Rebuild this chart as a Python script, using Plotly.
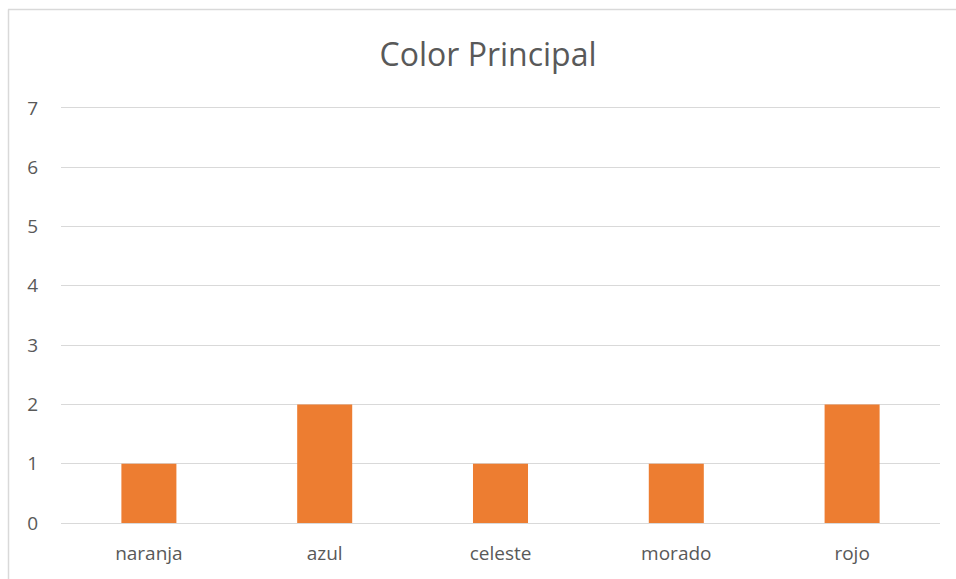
import plotly.graph_objects as go

categories = ["naranja", "azul", "celeste", "morado", "rojo"]
values = [1, 2, 1, 1, 2]
title_text = "Color Principal"

fig = go.Figure(go.Bar(
    x=categories, y=values,
    marker=dict(color="#ED7D31", line=dict(width=0)),
    width=0.313,
))

font_family = "Open Sans, Liberation Sans, sans-serif"

top_pad = 0.05
plot_h = 579 - 105 - 56

fig.update_layout(
    width=956, height=579,
    margin=dict(l=61, r=16, t=105, b=56),
    paper_bgcolor="white", plot_bgcolor="white",
    showlegend=False,
    title=dict(text=title_text, x=488 / 956, xanchor="center", y=1 - 55 / 579, yanchor="middle",
               font=dict(family=font_family, size=32, color="#595959")),
    font=dict(family=font_family, size=19, color="#595959"),
    xaxis=dict(showgrid=False, showline=False, ticks="", tickfont=dict(size=19, color="#595959"),
               ticklabelstandoff=17),
    yaxis=dict(range=[0, 7 + top_pad], tickvals=[0, 1, 2, 3, 4, 5, 6, 7], showgrid=True,
               gridcolor="#D9D9D9", gridwidth=1.3,
               zeroline=True, zerolinecolor="#D9D9D9", zerolinewidth=1.3,
               showline=False, ticks="", tickfont=dict(size=19, color="#595959"),
               ticklabelstandoff=22),
    shapes=[
        dict(type="line", xref="paper", yref="paper", x0=-53 / 879, x1=1.1,
             y0=(523 - 9.5) / plot_h, y1=(523 - 9.5) / plot_h,
             line=dict(color="#D9D9D9", width=1.5)),
        dict(type="line", xref="paper", yref="paper", x0=-52.5 / 879, x1=-52.5 / 879, y0=-0.2,
             y1=(523 - 9.5) / plot_h,
             line=dict(color="#D9D9D9", width=1.5)),
    ],
)

fig.write_html("out.html")
